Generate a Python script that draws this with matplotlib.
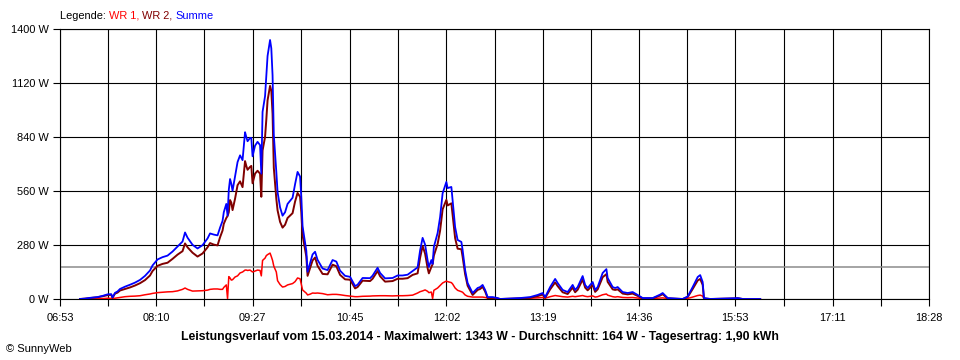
import matplotlib
matplotlib.use("Agg")
import matplotlib.pyplot as plt

plt.rcParams['font.family'] = ['Liberation Sans', 'DejaVu Sans']

# ---- data -------------------------------------------------------------
times = ["07:09","07:13","07:17","07:23","07:27","07:31","07:34","07:35","07:37","07:39",
         "07:41","07:45","07:49","07:53","07:57","08:01","08:05","08:07","08:11","08:15",
         "08:19","08:23","08:27","08:31","08:33","08:35","08:39","08:43","08:47","08:51",
         "08:53","08:56","08:59","09:01","09:03","09:04","09:06","09:07","09:08","09:09",
         "09:10","09:11","09:13","09:15","09:17","09:19","09:21","09:22","09:23","09:25",
         "09:26","09:27","09:29","09:31","09:33","09:34","09:35","09:37","09:38","09:39",
         "09:41","09:42","09:43","09:44","09:46","09:47","09:49","09:51","09:53","09:55",
         "09:59","10:01","10:03","10:05","10:06","10:07","10:10","10:11","10:13","10:15",
         "10:17","10:19","10:23","10:27","10:31","10:34","10:37","10:41","10:45","10:49",
         "10:51","10:55","11:01","11:03","11:07","11:09","11:13","11:19","11:23","11:27",
         "11:31","11:35","11:39","11:41","11:43","11:45","11:47","11:48","11:50","11:51",
         "11:52","11:55","11:57","11:59","12:02","12:03","12:06","12:07","12:09","12:11",
         "12:14","12:15","12:17","12:19","12:23","12:27","12:29","12:31","12:33","12:35",
         "12:39","12:43","12:45","13:01","13:09","13:15","13:19","13:21","13:25","13:29",
         "13:31","13:35","13:39","13:43","13:45","13:47","13:51","13:53","13:55","13:59",
         "14:01","14:03","14:07","14:10","14:11","14:15","14:17","14:19","14:23","14:27",
         "14:31","14:35","14:39","14:47","14:53","14:55","14:59","15:11","15:15","15:19",
         "15:23","15:25","15:27","15:28","15:33","15:53","15:55","15:59","16:13"]

wr1 = [0,0,1,1,2,4,3,2,4,6,
       8,12,14,15,17,22,26,29,33,35,
       37,38,42,50,57,50,41,42,43,46,
       50,52,52,50,50,60,73,2,116,109,
       98,100,114,120,135,140,150,150,148,150,
       145,140,145,150,148,120,200,212,225,230,
       238,220,200,170,140,95,75,62,65,73,
       80,90,109,105,75,47,30,21,25,31,
       30,31,28,22,24,24,22,18,15,12,
       12,14,15,16,17,17,17,16,17,17,
       18,20,31,38,42,47,40,33,36,2,
       45,57,70,83,93,90,85,78,57,45,
       38,35,21,14,10,10,10,10,8,5,
       5,3,0,2,4,6,8,4,12,18,
       16,12,10,14,12,14,18,14,12,16,
       10,12,22,26,20,12,10,12,8,7,
       8,5,2,2,5,6,2,0,3,10,
       18,20,15,2,0,1,1,0,0]

wr2 = [0,2,5,9,14,20,22,6,28,33,
       44,52,60,70,82,98,122,145,172,182,
       188,208,230,248,288,268,240,220,236,268,
       290,282,278,320,355,390,420,430,450,513,
       500,461,520,590,610,580,715,690,670,685,
       690,600,650,665,650,530,770,840,930,1030,
       1105,1080,960,680,520,460,400,370,385,420,
       445,505,550,530,450,330,220,120,160,200,
       215,172,130,128,178,170,125,102,100,55,
       62,95,93,105,145,118,90,93,105,105,
       108,125,133,214,275,235,160,133,166,180,
       225,285,355,465,514,485,496,435,316,261,
       258,219,129,69,21,47,52,63,39,5,
       5,2,0,3,6,15,23,6,50,86,
       67,35,26,59,35,48,101,59,45,72,
       37,50,113,129,89,50,47,50,28,24,
       28,16,3,3,18,25,3,0,10,52,
       96,104,73,3,0,3,4,0,0]

summe = [a + b for a, b in zip(wr1, wr2)]
durchschnitt = 164

x_labels = ["06:53","08:10","09:27","10:45","12:02","13:19","14:36","15:53","17:11","18:28"]
y_ticks = [0, 280, 560, 840, 1120, 1400]
title = ("Leistungsverlauf vom 15.03.2014 - Maximalwert: 1343 W - "
         "Durchschnitt: 164 W - Tagesertrag: 1,90 kWh")

# ---- helpers ------------------------------------------------------------
def to_min(s):
    h, m = s.split(":")
    return int(h) * 60 + int(m)

t = [to_min(s) for s in times]
major = [to_min(s) for s in x_labels]
minor = [(a + b) / 2 for a, b in zip(major[:-1], major[1:])]

# ---- figure -------------------------------------------------------------
fig = plt.figure(figsize=(9.6, 3.6), dpi=100)
ax = fig.add_axes([60/960, 1 - 299/360, (929-60)/960, (299-29)/360])

ax.set_xlim(major[0], major[-1])
ax.set_ylim(0, 1400)

for x in major + minor:
    ax.axvline(x, color='black', lw=0.8, zorder=1)
for y in y_ticks:
    ax.axhline(y, color='black', lw=0.8, zorder=1)
ax.axhline(durchschnitt, color='#8c8c8c', lw=1.1, zorder=1.5)

ax.plot(t, wr1, color='#ff0000', lw=1.1, zorder=3)
ax.plot(t, wr2, color='#800000', lw=1.4, zorder=4)
ax.plot(t, summe, color='#0000ff', lw=1.3, zorder=5)

ax.set_xticks(major)
ax.set_xticklabels(x_labels)
ax.set_xticks(minor, minor=True)
ax.set_yticks(y_ticks)
ax.set_yticklabels([f"{v} W" for v in y_ticks])
ax.tick_params(axis='both', which='both', direction='out', length=5, width=0.8,
               color='black', labelsize=7.9, pad=3)
ax.tick_params(axis='x', pad=5)
for sp in ax.spines.values():
    sp.set_color('black')
    sp.set_linewidth(0.8)

fig.text(480/960, 1 - 337/360, title, ha='center', va='center',
         fontsize=8.8, fontweight='bold')
fig.text(6/960, 1 - 349/360, "\u00a9 SunnyWeb", ha='left', va='center', fontsize=8)

# legend with coloured pieces
fig.canvas.draw()
renderer = fig.canvas.get_renderer()
pieces = [("Legende: ", 'black'), ("WR 1, ", '#ff0000'), ("WR 2, ", '#800000'),
          ("Summe", '#0000ff')]
xpos = 60
for txt, col in pieces:
    tt = fig.text(xpos/960, 1 - 16/360, txt, ha='left', va='center',
                  fontsize=7.9, color=col)
    bb = tt.get_window_extent(renderer=renderer)
    xpos += bb.width

fig.savefig("out.png", dpi=100)
